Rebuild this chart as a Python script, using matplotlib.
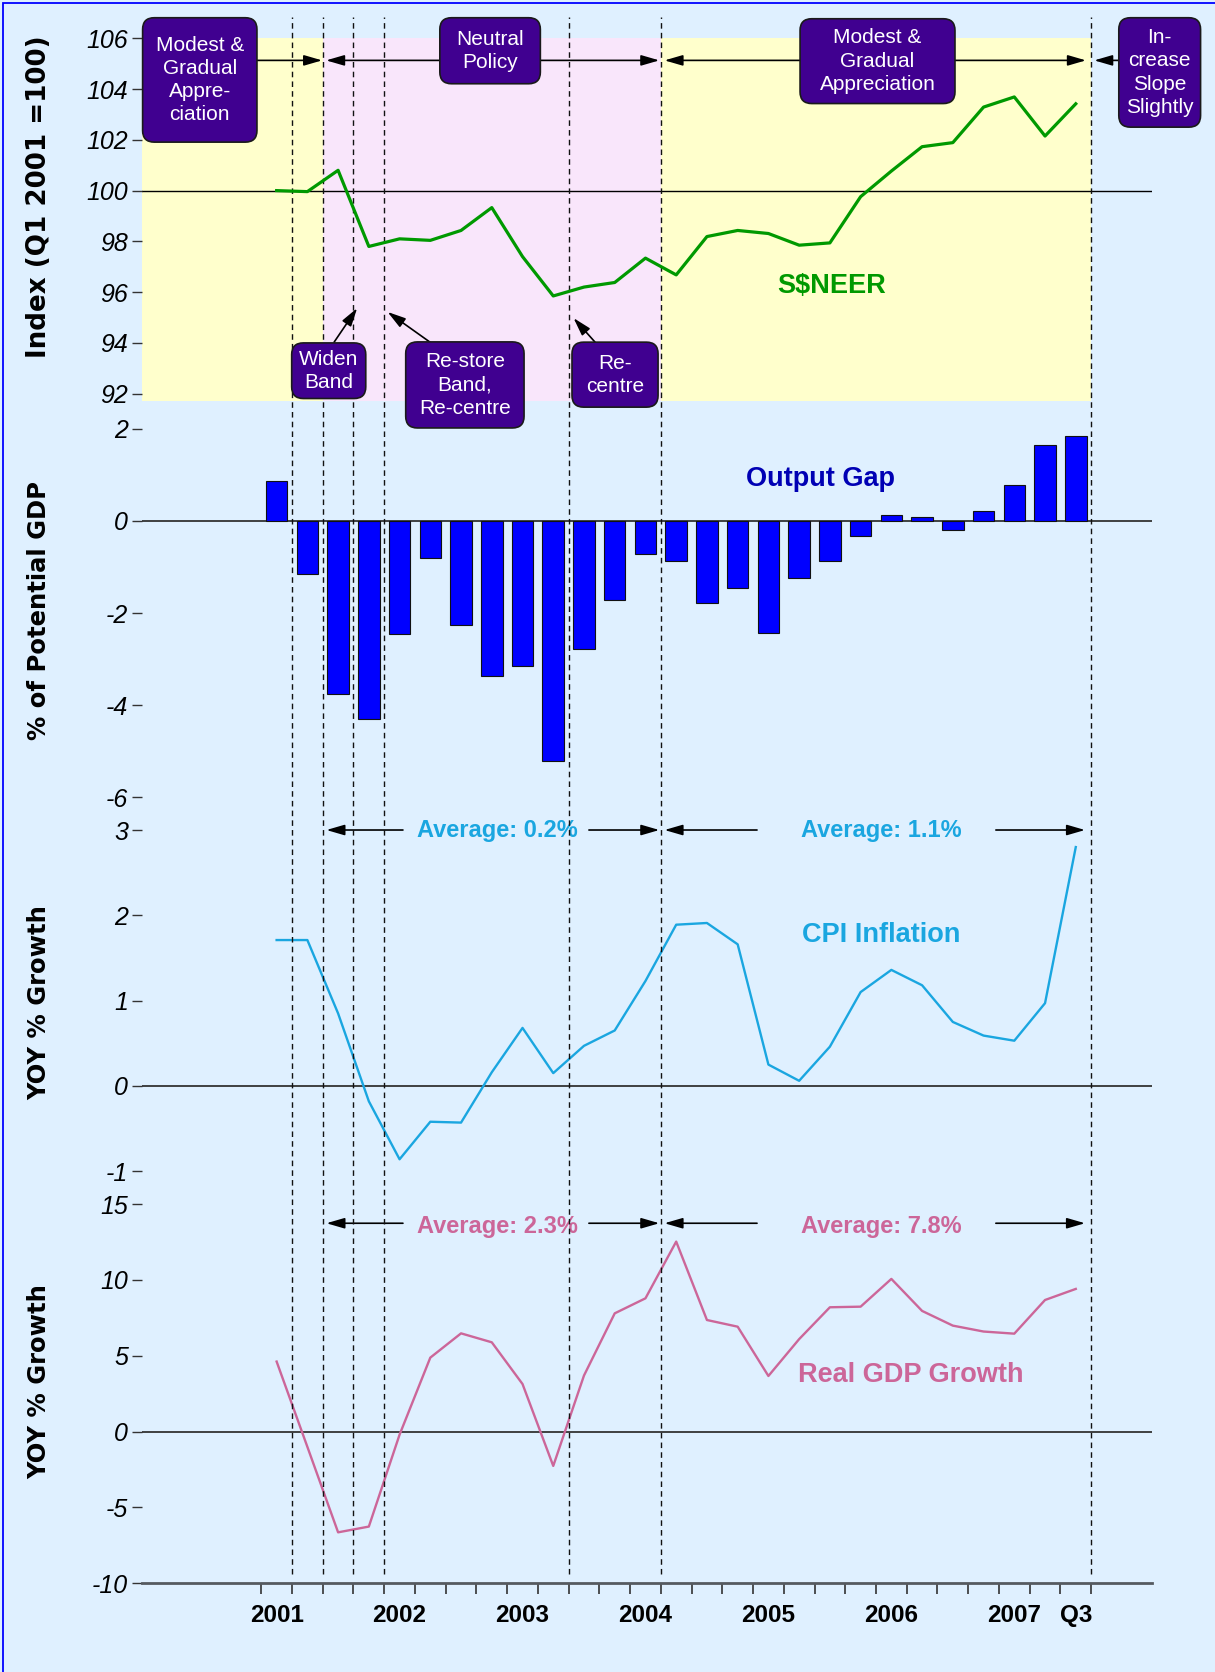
import matplotlib
matplotlib.use("Agg")
import matplotlib.pyplot as plt
import matplotlib.transforms as mtransforms
from matplotlib.patches import FancyBboxPatch, Rectangle
from matplotlib.lines import Line2D
from matplotlib.ticker import FixedLocator, FixedFormatter
import numpy as np

plt.rcParams['font.family'] = ['Liberation Sans', 'DejaVu Sans']
plt.rcParams['axes.unicode_minus'] = False

# quarters Q1 2001 .. Q3 2007 (index 0..26)
year_labels = ['2001', '2002', '2003', '2004', '2005', '2006', '2007', 'Q3']
year_pos = [0, 4, 8, 12, 16, 20, 24, 26]

neer = [100.0, 99.96, 100.8, 97.8, 98.1, 98.04, 98.43, 99.33, 97.4, 95.85,
        96.2, 96.38, 97.34, 96.68, 98.19, 98.43, 98.31, 97.85, 97.94, 99.76,
        100.77, 101.73, 101.89, 103.29, 103.69, 102.15, 103.42]
output_gap = [0.87, -1.14, -3.75, -4.29, -2.46, -0.81, -2.26, -3.36, -3.14, -5.22,
              -2.78, -1.72, -0.72, -0.86, -1.77, -1.46, -2.43, -1.24, -0.86, -0.33,
              0.14, 0.08, -0.20, 0.22, 0.79, 1.64, 1.84]
cpi = [1.71, 1.71, 0.85, -0.18, -0.86, -0.42, -0.43, 0.16, 0.68, 0.15,
       0.47, 0.65, 1.23, 1.89, 1.91, 1.66, 0.25, 0.06, 0.46, 1.10,
       1.36, 1.18, 0.75, 0.59, 0.53, 0.97, 2.80]
gdp = [4.62, -1.0, -6.64, -6.26, -0.2, 4.88, 6.48, 5.89, 3.14, -2.26,
       3.7, 7.8, 8.79, 12.53, 7.36, 6.92, 3.67, 6.1, 8.2, 8.24,
       10.07, 7.96, 6.99, 6.6, 6.46, 8.68, 9.41]

policy_breaks = [0.5, 1.5, 2.5, 3.5, 9.5, 12.5, 26.5]
cpi_avgs = ['Average: 0.2%', 'Average: 1.1%']
gdp_avgs = ['Average: 2.3%', 'Average: 7.8%']

bg = '#dff0ff'
green = '#009900'
bar_blue = '#0000ff'
og_blue = '#0000b4'
cpi_col = '#1aa6e0'
gdp_col = '#cc6699'
box_col = '#400090'

W, H = 1215, 1672
fig = plt.figure(figsize=(W / 100, H / 100), dpi=100, facecolor=bg)

left, right = 142, 1152
edges = [38.3, 401.3, 815, 1187, 1583.3]


def panel(i):
    top, bot = edges[i], edges[i + 1]
    a = fig.add_axes([left / W, 1 - bot / H, (right - left) / W, (bot - top) / H])
    a.set_facecolor('none')
    a.set_xlim(-4.38, 28.48)
    for s in a.spines.values():
        s.set_visible(False)
    a.tick_params(axis='y', direction='out', length=7, width=1, color='#333333',
                  pad=3, labelsize=18)
    return a


x = np.arange(len(neer))

ax1 = panel(0)
ax2 = panel(1)
ax3 = panel(2)
ax4 = panel(3)
ax1.set_zorder(5)

# ---- S$NEER panel
ax1.set_ylim(91.7, 106)
ax1.set_yticks(np.arange(92, 107, 2))
ax1.axvspan(-4.38, 1.5, color='#ffffcc', lw=0, zorder=0)
ax1.axvspan(1.5, 12.5, color='#f9e6fb', lw=0, zorder=0)
ax1.axvspan(12.5, 26.5, color='#ffffcc', lw=0, zorder=0)
ax1.axhline(100, color='black', lw=1, zorder=1)
ax1.plot(x, neer, color=green, lw=2.3, zorder=3)
ax1.text(18.07, 96.24, 'S$NEER', color=green, fontsize=19.5, fontweight='bold',
         ha='center', va='center')

# dashed policy lines through all panels
tr = mtransforms.blended_transform_factory(ax1.transData, fig.transFigure)
for b in policy_breaks:
    ax1.add_line(Line2D([b, b], [1 - 1574 / H, 1 - 17 / H], transform=tr, color='#111111',
                        lw=1.0, ls=(0, (4, 3)), clip_on=False, zorder=2))


def box(ax, x0, x1, y0, y1, text):
    p = FancyBboxPatch((x0, y0), x1 - x0, y1 - y0,
                       boxstyle='round,pad=0,rounding_size=0.38', mutation_aspect=1.21,
                       facecolor=box_col, edgecolor='#1a1a1a', lw=1.2, clip_on=False, zorder=6)
    ax.add_patch(p)
    ax.text((x0 + x1) / 2, (y0 + y1) / 2, text, color='white', fontsize=15, ha='center',
            va='center', multialignment='center', linespacing=1.28, zorder=7, clip_on=False)


box(ax1, -4.36, -0.64, 101.91, 106.81, 'Modest &\nGradual\nAppre-\nciation')
box(ax1, 5.31, 8.58, 104.21, 106.81, 'Neutral\nPolicy')
box(ax1, 17.03, 22.07, 103.43, 106.77, 'Modest &\nGradual\nAppreciation')
box(ax1, 27.40, 30.06, 102.50, 106.81, 'In-\ncrease\nSlope\nSlightly')
box(ax1, 0.49, 2.90, 91.81, 94.0, 'Widen\nBand')
box(ax1, 4.20, 8.05, 90.65, 94.04, 'Re-store\nBand,\nRe-centre')
box(ax1, 9.61, 12.41, 91.47, 94.03, 'Re-\ncentre')

arrow_style = '-|>,head_length=0.55,head_width=0.16'


def arrow(ax, x0, y0, x1, y1):
    ax.annotate('', xy=(x1, y1), xytext=(x0, y0), annotation_clip=False,
                arrowprops=dict(arrowstyle=arrow_style, color='black', lw=1.2,
                                mutation_scale=20, shrinkA=0, shrinkB=0), zorder=5)


ya = 105.13
arrow(ax1, -0.64, ya, 1.48, ya)
arrow(ax1, 5.31, ya, 1.61, ya)
arrow(ax1, 8.58, ya, 12.45, ya)
arrow(ax1, 17.03, ya, 12.62, ya)
arrow(ax1, 22.07, ya, 26.33, ya)
arrow(ax1, 27.40, ya, 26.6, ya)
arrow(ax1, 1.87, 94.03, 2.62, 95.37)
arrow(ax1, 4.99, 94.03, 3.61, 95.22)
arrow(ax1, 10.36, 94.03, 9.66, 94.98)

# ---- output gap panel
ax2.set_ylim(-6.382, 2.598)
ax2.set_yticks([2, 0, -2, -4, -6])
ax2.axhline(0, color='#333333', lw=1.3, zorder=1)
ax2.bar(x, output_gap, width=0.7, color=bar_blue, edgecolor='#111111', lw=0.8, zorder=3)
ax2.text(17.71, 0.91, 'Output Gap', color=og_blue, fontsize=19.5, fontweight='bold',
         ha='center', va='center')

# ---- CPI panel
ax3.set_ylim(-1.185, 3.176)
ax3.set_yticks([3, 2, 1, 0, -1])
ax3.axhline(0, color='#333333', lw=1.3, zorder=1)
ax3.plot(x, cpi, color=cpi_col, lw=1.7, zorder=3)
ax3.text(19.67, 1.77, 'CPI Inflation', color=cpi_col, fontsize=19.5, fontweight='bold',
         ha='center', va='center')


def averages(ax, y, ytext, labels, col):
    ax.text(7.19, ytext, labels[0], color=col, fontsize=17, fontweight='bold', ha='center', va='center')
    ax.text(19.66, ytext, labels[1], color=col, fontsize=17, fontweight='bold', ha='center', va='center')
    arrow(ax, 4.11, y, 1.62, y)
    arrow(ax, 10.16, y, 12.45, y)
    arrow(ax, 15.63, y, 12.62, y)
    arrow(ax, 23.4, y, 26.3, y)


averages(ax3, 3.0, 2.99, cpi_avgs, cpi_col)

# ---- real GDP panel
ax4.set_ylim(-10, 16.13)
ax4.set_yticks([15, 10, 5, 0, -5, -10])
ax4.axhline(0, color='#333333', lw=1.3, zorder=1)
ax4.plot(x, gdp, color=gdp_col, lw=1.7, zorder=3)
ax4.text(20.62, 3.74, 'Real GDP Growth', color=gdp_col, fontsize=19.5, fontweight='bold',
         ha='center', va='center')
averages(ax4, 13.74, 13.5, gdp_avgs, gdp_col)

ax4.spines['bottom'].set_visible(True)
ax4.spines['bottom'].set_color('#555a60')
ax4.spines['bottom'].set_linewidth(2)
ax4.xaxis.set_major_locator(FixedLocator(np.arange(-0.5, 27, 1)))
ax4.xaxis.set_major_formatter(FixedFormatter([]))
ax4.xaxis.set_minor_locator(FixedLocator(year_pos))
ax4.xaxis.set_minor_formatter(FixedFormatter(year_labels))
ax4.tick_params(axis='x', which='major', direction='out', length=8, width=1.2, color='#333333')
ax4.tick_params(axis='x', which='minor', length=0, pad=15, labelsize=17.5)
for t in ax4.get_xticklabels(minor=True):
    t.set_fontweight('bold')

for a in (ax1, ax2, ax3):
    a.set_xticks([])

# y axis labels
ylabels = ['Index (Q1 2001 =100)', '% of Potential GDP', 'YOY % Growth', 'YOY % Growth']
ylab_y = [0.563, 0.4955, 0.495, 0.51]
ylab_size = [18.8, 17.5, 17.5, 17.5]
for a, lab, yy, fs in zip((ax1, ax2, ax3, ax4), ylabels, ylab_y, ylab_size):
    a.set_ylabel(lab, family='DejaVu Sans', fontweight='bold', fontsize=fs)
    a.yaxis.set_label_coords(-0.102, yy)
    a.yaxis.label.set_va('center')
    for t in a.get_yticklabels():
        t.set_fontstyle('italic')

# blue border on top and left
fig.add_artist(Rectangle((2.5 / W, -0.1), 1.2, 1.1 - 2.5 / H, transform=fig.transFigure,
                         fill=False, edgecolor='#0000ff', lw=1.3))

fig.savefig('out.png', dpi=100, facecolor=bg)
